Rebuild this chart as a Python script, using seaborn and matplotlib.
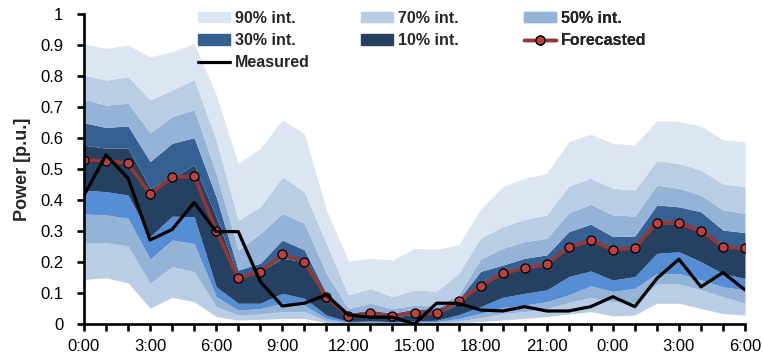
import matplotlib
matplotlib.use("Agg")
import pandas as pd
import matplotlib.pyplot as plt
import seaborn as sns
from matplotlib.patches import Patch
from matplotlib.lines import Line2D

# Hourly values, 0:00 of day 1 to 6:00 of day 2 (31 points)
hours = list(range(31))
tick_labels = ["0:00", "3:00", "6:00", "9:00", "12:00", "15:00", "18:00",
               "21:00", "0:00", "3:00", "6:00"]

measured = [0.415, 0.545, 0.470, 0.271, 0.305, 0.392, 0.298, 0.298, 0.137, 0.058,
            0.067, 0.094, 0.029, 0.022, 0.022, 0.000, 0.067, 0.067, 0.045, 0.042,
            0.056, 0.042, 0.042, 0.056, 0.088, 0.056, 0.147, 0.209, 0.120, 0.166, 0.110]
forecast = [0.529, 0.527, 0.518, 0.419, 0.473, 0.477, 0.301, 0.147, 0.169, 0.225,
            0.201, 0.086, 0.026, 0.034, 0.026, 0.037, 0.034, 0.074, 0.123, 0.163,
            0.180, 0.192, 0.247, 0.271, 0.239, 0.246, 0.327, 0.325, 0.300, 0.249, 0.244]

# band edges, bottom to top
edge0 = [0.144, 0.149, 0.133, 0.051, 0.086, 0.072, 0.024, 0.013, 0.015, 0.018,
         0.018, 0.004, 0.000, 0.000, 0.000, 0.000, 0.000, 0.004, 0.008, 0.013,
         0.018, 0.024, 0.032, 0.040, 0.026, 0.029, 0.067, 0.067, 0.050, 0.034, 0.029]
edge1 = [0.263, 0.262, 0.252, 0.131, 0.185, 0.169, 0.056, 0.029, 0.032, 0.040,
         0.040, 0.010, 0.003, 0.004, 0.003, 0.004, 0.005, 0.010, 0.020, 0.034,
         0.040, 0.050, 0.069, 0.086, 0.072, 0.067, 0.129, 0.129, 0.110, 0.088, 0.067]
edge2 = [0.355, 0.352, 0.341, 0.209, 0.271, 0.260, 0.088, 0.045, 0.050, 0.067,
         0.061, 0.018, 0.005, 0.006, 0.005, 0.006, 0.008, 0.018, 0.034, 0.053,
         0.061, 0.072, 0.094, 0.123, 0.105, 0.115, 0.163, 0.163, 0.142, 0.120, 0.110]
edge3 = [0.432, 0.427, 0.416, 0.282, 0.348, 0.346, 0.120, 0.067, 0.067, 0.099,
         0.083, 0.029, 0.008, 0.010, 0.008, 0.010, 0.012, 0.030, 0.056, 0.086,
         0.099, 0.110, 0.153, 0.171, 0.142, 0.153, 0.228, 0.233, 0.201, 0.163, 0.147]
edge4 = [0.577, 0.567, 0.567, 0.438, 0.470, 0.513, 0.346, 0.153, 0.169, 0.212,
         0.201, 0.083, 0.022, 0.028, 0.022, 0.032, 0.032, 0.065, 0.130, 0.165,
         0.180, 0.190, 0.245, 0.268, 0.238, 0.243, 0.325, 0.322, 0.298, 0.248, 0.240]
edge5 = [0.649, 0.634, 0.639, 0.524, 0.583, 0.601, 0.410, 0.174, 0.196, 0.271,
         0.239, 0.099, 0.035, 0.045, 0.035, 0.048, 0.050, 0.080, 0.170, 0.190,
         0.212, 0.223, 0.298, 0.322, 0.282, 0.284, 0.384, 0.378, 0.362, 0.303, 0.295]
edge6 = [0.725, 0.706, 0.712, 0.617, 0.669, 0.692, 0.486, 0.239, 0.292, 0.357,
         0.325, 0.163, 0.050, 0.067, 0.050, 0.061, 0.061, 0.094, 0.210, 0.244,
         0.266, 0.276, 0.359, 0.386, 0.352, 0.348, 0.448, 0.438, 0.416, 0.368, 0.357]
edge7 = [0.803, 0.787, 0.798, 0.723, 0.755, 0.789, 0.594, 0.335, 0.378, 0.475,
         0.427, 0.260, 0.094, 0.115, 0.088, 0.110, 0.106, 0.163, 0.278, 0.314,
         0.338, 0.352, 0.445, 0.470, 0.438, 0.432, 0.527, 0.518, 0.497, 0.452, 0.443]
edge8 = [0.905, 0.889, 0.900, 0.862, 0.878, 0.905, 0.740, 0.518, 0.567, 0.658,
         0.615, 0.368, 0.203, 0.212, 0.206, 0.244, 0.241, 0.255, 0.370, 0.443,
         0.470, 0.486, 0.588, 0.613, 0.583, 0.577, 0.656, 0.653, 0.639, 0.594, 0.588]

edges = [edge0, edge1, edge2, edge3, edge4, edge5, edge6, edge7, edge8]
band_colors = ["#b9cde5", "#95b3d7", "#558ed5", "#254061",
               "#366092", "#95b3d7", "#b9cde5", "#dce6f2"]

df = pd.DataFrame({"hour": hours, "Measured": measured, "Forecasted": forecast})

sns.set_style("ticks")
plt.rcParams["font.family"] = ["Liberation Sans", "DejaVu Sans"]

fig = plt.figure(figsize=(7.63, 3.6), dpi=100)
ax = fig.add_axes([84 / 763, 1 - 324 / 360, 661 / 763, 310 / 360])

# stacked interval bands
for lo, hi, c in zip(edges[:-1], edges[1:], band_colors):
    ax.fill_between(hours, lo, hi, color=c, linewidth=0)

sns.lineplot(data=df, x="hour", y="Forecasted", ax=ax, color="#953735",
             linewidth=2.5, marker="o", markersize=6.5,
             markerfacecolor="#b8423f", markeredgecolor="black",
             markeredgewidth=0.9)
sns.lineplot(data=df, x="hour", y="Measured", ax=ax, color="black",
             linewidth=2.3)

ax.set_xlim(0, 30)
ax.set_ylim(0, 1)
ax.set_xticks(hours)
ax.set_xticklabels([tick_labels[i // 3] if i % 3 == 0 else "" for i in hours])
ax.set_yticks([i / 10 for i in range(11)])
ax.set_yticklabels(["0"] + [f"0.{i}" for i in range(1, 10)] + ["1"])
ax.tick_params(axis="both", direction="out", length=5, width=1.9,
               labelsize=12, colors="black")
ax.tick_params(axis="y", pad=10)
ax.tick_params(axis="x", pad=6)
for side in ["top", "right"]:
    ax.spines[side].set_visible(False)
for side in ["left", "bottom"]:
    ax.spines[side].set_linewidth(1.9)
    ax.spines[side].set_color("black")

ax.set_xlabel("")
ax.set_ylabel("Power [p.u.]", fontsize=13, fontweight="bold")
ax.yaxis.set_label_coords(-0.08, 0.5)

# legend, three columns laid out like the original
h = {
    "90% int.": Patch(color=band_colors[7]),
    "70% int.": Patch(color=band_colors[6]),
    "50% int.": Patch(color=band_colors[5]),
    "30% int.": Patch(color=band_colors[4]),
    "10% int.": Patch(color=band_colors[3]),
    "Forecasted": Line2D([], [], color="#953735", linewidth=2.5, marker="o",
                         markersize=6.5, markerfacecolor="#b8423f",
                         markeredgecolor="black", markeredgewidth=0.9),
    "Measured": Line2D([], [], color="black", linewidth=2.3),
}
columns = [(198, ["90% int.", "30% int.", "Measured"]),
           (361, ["70% int.", "10% int."]),
           (524, ["50% int.", "Forecasted"])]
for x0, names in columns:
    leg = ax.legend([h[n] for n in names], names, loc="upper left",
                    bbox_to_anchor=(x0 / 763, 1 - 11 / 360),
                    bbox_transform=fig.transFigure, frameon=False,
                    borderpad=0, borderaxespad=0, handlelength=2.0,
                    handleheight=0.6, handletextpad=0.3, labelspacing=0.45,
                    prop={"size": 11.5, "weight": "bold"})
    ax.add_artist(leg)

fig.savefig("out.png", dpi=100)
